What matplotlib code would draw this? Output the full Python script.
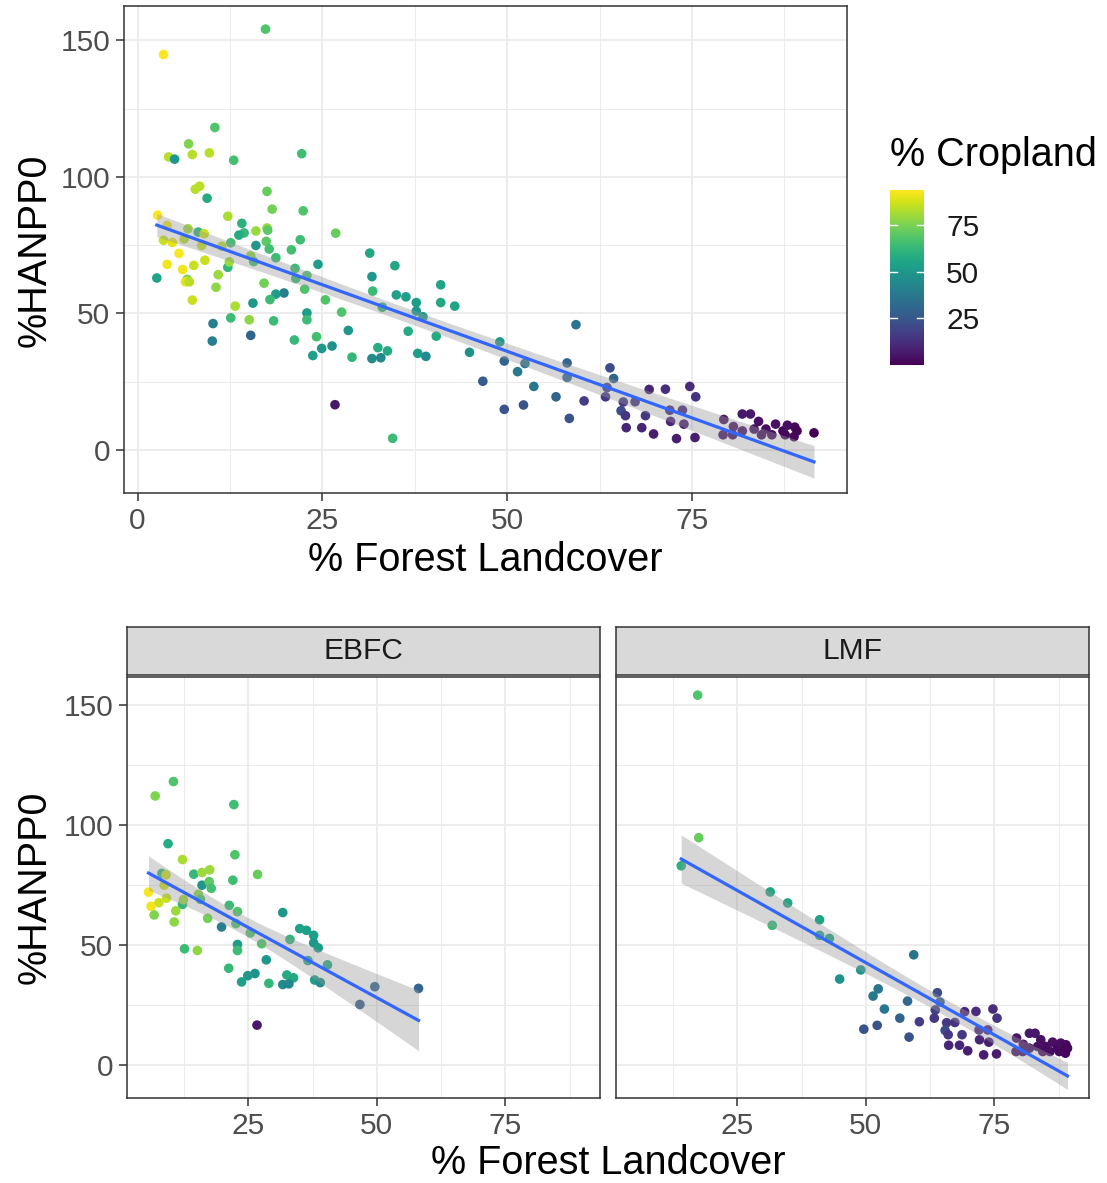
import numpy as np
import matplotlib.pyplot as plt
from matplotlib.colors import Normalize

plt.rcParams['font.family'] = ['Liberation Sans', 'DejaVu Sans']

# EBFC sites: % forest, %HANPP0, % cropland
ebfc_forest = [10.45, 6.9, 22.2, 9.4, 22.4, 12.2, 26.8, 14.4, 16.0, 17.5,
               8.2, 9.0, 22.0, 16.0, 17.4, 17.8, 8.65, 5.6, 7.6, 6.1,
               9.1, 12.2, 12.4, 15.3, 15.7, 6.7, 10.9, 10.6, 17.1, 21.3,
               22.9, 22.6, 19.8, 25.4, 31.7, 33.1, 35.0, 36.3, 37.7, 37.7,
               38.6, 22.9, 22.9, 27.6, 12.6, 15.1, 28.5, 36.6, 40.4, 21.2,
               26.3, 24.9, 23.7, 29.0, 32.5, 33.8, 31.7, 32.9, 37.9, 39.0,
               49.6, 46.7, 58.1, 26.7]
ebfc_hanpp = [118.1, 112.1, 108.5, 92.2, 87.6, 85.6, 79.4, 79.5, 80.2, 81.3,
              79.8, 79.2, 77.0, 74.9, 76.4, 73.6, 74.9, 72.0, 67.6, 66.1,
              69.5, 66.9, 68.9, 71.1, 69.0, 62.5, 64.2, 59.6, 61.1, 66.5,
              63.9, 58.9, 57.5, 55.0, 63.5, 52.3, 56.8, 56.1, 54.0, 50.9,
              48.8, 50.2, 47.7, 50.5, 48.4, 47.7, 43.8, 43.5, 41.7, 40.3,
              38.1, 37.2, 34.6, 34.0, 37.5, 36.3, 33.5, 33.8, 35.4, 34.3,
              32.6, 25.2, 31.9, 16.6]
ebfc_crop = [68, 76, 65, 58, 68, 82, 72, 63, 80, 80,
             62, 86, 65, 50, 70, 66, 86, 93, 86, 92,
             86, 62, 80, 78, 66, 76, 80, 78, 74, 64,
             68, 68, 40, 68, 50, 62, 54, 53, 52, 50,
             52, 52, 64, 68, 64, 78, 50, 58, 57, 63,
             48, 50, 53, 62, 58, 57, 45, 44, 52, 45,
             30, 27, 30, 6]

# LMF sites
lmf_forest = [17.3, 17.5, 14.1, 31.4, 34.8, 31.8, 41.0, 41.0, 42.9, 59.3,
              49.0, 44.9, 52.4, 51.4, 58.1, 53.6, 56.6, 49.6, 52.2, 58.4,
              60.4, 63.9, 64.4, 63.5, 63.3, 65.7, 67.3, 65.4, 66.0, 68.7,
              66.1, 68.2, 69.8, 69.2, 71.4, 72.9, 75.4, 74.7, 75.5, 72.0,
              73.7, 72.1, 73.9, 79.3, 79.2, 80.6, 81.8, 82.9, 84.0, 85.0,
              85.8, 86.3, 87.3, 87.9, 88.9, 88.8, 80.5, 84.4, 83.4, 81.8,
              87.6, 89.2]
lmf_hanpp = [154.1, 94.7, 83.0, 72.1, 67.5, 58.2, 60.5, 54.0, 52.7, 45.9,
             39.6, 35.8, 31.7, 28.7, 26.6, 23.3, 19.5, 14.9, 16.5, 11.6,
             18.0, 30.1, 26.2, 22.9, 19.5, 17.6, 17.7, 14.4, 12.6, 12.6,
             8.2, 8.2, 5.9, 22.2, 22.3, 4.2, 4.6, 23.3, 19.5, 14.6,
             14.6, 10.5, 9.5, 11.2, 5.6, 8.6, 13.2, 13.2, 10.5, 7.7,
             5.6, 9.5, 7.0, 9.1, 8.4, 4.9, 5.6, 5.6, 7.7, 7.0,
             5.6, 7.0]
lmf_crop = [68, 72, 60, 56, 56, 64, 55, 56, 55, 36,
            50, 48, 36, 38, 32, 37, 30, 24, 24, 24,
            17, 22, 30, 18, 15, 15, 14, 22, 15, 15,
            10, 10, 8, 10, 12, 8, 8, 12, 14, 10,
            10, 10, 8, 5, 5, 5, 6, 6, 4, 3,
            3, 4, 2, 3, 2, 2, 4, 3, 4, 4,
            2, 1]

# remaining sites (only in the pooled panel)
other_forest = [3.5, 4.2, 5.0, 7.4, 9.7, 13.0, 7.8, 8.4, 18.2, 2.7,
                4.0, 6.8, 13.7, 17.6, 3.5, 6.3, 4.7, 12.6, 11.4, 20.8,
                18.7, 4.0, 24.4, 2.6, 6.5, 7.0, 21.4, 7.4, 18.7, 17.9,
                13.2, 15.6, 18.4, 10.2, 10.1, 15.3, 24.2, 34.5, 91.5]
other_hanpp = [144.8, 107.3, 106.5, 108.2, 108.8, 106.1, 95.5, 96.6, 88.2, 86.0,
               82.2, 81.0, 78.7, 80.5, 76.8, 77.3, 76.0, 75.9, 74.6, 73.3,
               70.4, 68.0, 68.0, 63.0, 61.6, 61.6, 62.8, 54.9, 57.1, 55.1,
               52.7, 53.8, 47.3, 46.3, 39.9, 42.0, 41.5, 4.3, 6.3]
other_crop = [94, 84, 50, 84, 84, 66, 84, 84, 74, 94,
              92, 80, 58, 70, 86, 84, 90, 66, 84, 66,
              64, 92, 52, 55, 90, 84, 64, 86, 52, 64,
              82, 50, 64, 40, 40, 30, 66, 64, 0]

facets = ['EBFC', 'LMF']

all_forest = np.array(ebfc_forest + lmf_forest + other_forest)
all_hanpp = np.array(ebfc_hanpp + lmf_hanpp + other_hanpp)
all_crop = np.array(ebfc_crop + lmf_crop + other_crop)
norm = Normalize(all_crop.min(), all_crop.max())


def lm_band(x, y, n=80):
    x = np.asarray(x, float)
    y = np.asarray(y, float)
    b, a = np.polyfit(x, y, 1)
    xs = np.linspace(x.min(), x.max(), n)
    fit = a + b * xs
    df = len(x) - 2
    s = np.sqrt(np.sum((y - (a + b * x)) ** 2) / df)
    z = 1.959964
    t = z + (z**3 + z) / (4 * df) + (5 * z**5 + 16 * z**3 + 3 * z) / (96 * df**2)
    se = s * np.sqrt(1 / len(x) + (xs - x.mean()) ** 2 / np.sum((x - x.mean()) ** 2))
    return xs, fit, fit - t * se, fit + t * se


def style(ax):
    ax.set_facecolor('white')
    ax.set_axisbelow(True)
    ax.grid(which='major', color='#EBEBEB', lw=1.3)
    ax.grid(which='minor', color='#EBEBEB', lw=0.7)
    for sp in ax.spines.values():
        sp.set_color('#333333')
        sp.set_linewidth(1.1)
    ax.tick_params(which='major', length=6, width=1.1, color='#333333',
                   labelsize=21.5, labelcolor='#4D4D4D', pad=4)
    ax.tick_params(which='minor', length=0)


def panel(ax, x, y, c):
    xs, fit, lo, hi = lm_band(x, y)
    ax.scatter(x, y, c=c, cmap='viridis', norm=norm, s=48, edgecolors='none', zorder=2)
    ax.fill_between(xs, lo, hi, color='#999999', alpha=0.4, lw=0, zorder=3)
    ax.plot(xs, fit, color='#3366FF', lw=2.3, zorder=4)


fig = plt.figure(figsize=(11.07, 11.83), dpi=100)

# top: all sites
ax = fig.add_axes([0.112, 0.5833, 0.653, 0.4117])
style(ax)
panel(ax, all_forest, all_hanpp, all_crop)
xr = all_forest.max() - all_forest.min()
ax.set_xlim(all_forest.min() - 0.05 * xr, all_forest.max() + 0.05 * xr)
ax.set_ylim(-15.7, 162.6)
ax.set_xticks([0, 25, 50, 75])
ax.set_xticks([12.5, 37.5, 62.5, 87.5], minor=True)
ax.set_yticks([0, 50, 100, 150])
ax.set_yticks([25, 75, 125], minor=True)
fig.text(485.5 / 1107, 1 - 560 / 1183, '% Forest Landcover', ha='center', va='center', size=28.5)
fig.text(35 / 1107, 1 - 250 / 1183, '%HANPP0', ha='center', va='center', rotation=90, size=28.5)

# colour bar
cax = fig.add_axes([890 / 1107, 0.6915, 0.0307, 0.148])
cb = fig.colorbar(plt.cm.ScalarMappable(norm=norm, cmap='viridis'), cax=cax)
cb.outline.set_visible(False)
cb.set_ticks([25, 50, 75])
cax.tick_params(length=0, labelsize=21.5, pad=16, labelcolor='#1A1A1A')
for t in [25, 50, 75]:
    cax.plot([0, 0.2], [t, t], color='white', lw=1, transform=cax.get_yaxis_transform())
    cax.plot([0.8, 1], [t, t], color='white', lw=1, transform=cax.get_yaxis_transform())
fig.text(890 / 1107, 1 - 155 / 1183, '% Cropland', ha='left', va='center', size=28.5)

# bottom: facets
fx = [np.array(ebfc_forest), np.array(lmf_forest)]
fy = [np.array(ebfc_hanpp), np.array(lmf_hanpp)]
fc = [np.array(ebfc_crop), np.array(lmf_crop)]
lefts = [127 / 1107, 616 / 1107]
bx = np.concatenate(fx)
xr = bx.max() - bx.min()
for i in range(2):
    a = fig.add_axes([lefts[i], 0.0719, 473 / 1107, 0.3559])
    style(a)
    panel(a, fx[i], fy[i], fc[i])
    a.set_xlim(bx.min() - 0.05 * xr, bx.max() + 0.05 * xr)
    a.set_ylim(-13.75, 161.7)
    a.set_xticks([25, 50, 75])
    a.set_xticks([12.5, 37.5, 62.5, 87.5], minor=True)
    a.set_yticks([0, 50, 100, 150])
    a.set_yticks([25, 75, 125], minor=True)
    if i == 1:
        a.tick_params(axis='y', which='both', left=False, labelleft=False)
    s = fig.add_axes([lefts[i], 0.4294, 473 / 1107, 0.0406])
    s.set_facecolor('#D9D9D9')
    s.set_xticks([])
    s.set_yticks([])
    for sp in s.spines.values():
        sp.set_color('#333333')
        sp.set_linewidth(1.1)
    s.text(0.5, 0.5, facets[i], ha='center', va='center', size=21.5, color='#1A1A1A',
           transform=s.transAxes)

fig.text(608 / 1107, 1 - 1163 / 1183, '% Forest Landcover', ha='center', va='center', size=28.5)
fig.text(35 / 1107, 1 - 887 / 1183, '%HANPP0', ha='center', va='center', rotation=90, size=28.5)

fig.savefig('out.png', dpi=100)
